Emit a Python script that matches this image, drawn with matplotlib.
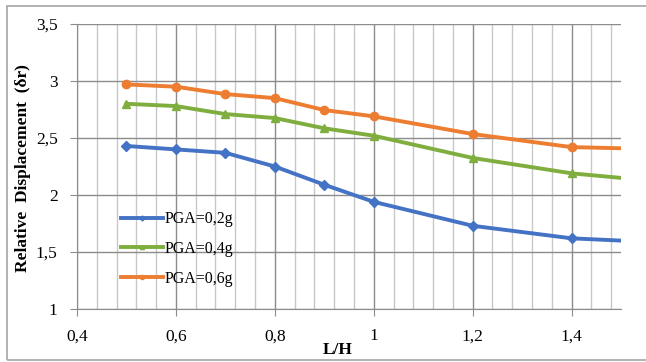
import numpy as np
import matplotlib.pyplot as plt
from matplotlib.ticker import MultipleLocator, FuncFormatter
from matplotlib.patches import Rectangle

# L/H ratios and relative displacement for each PGA level
lh = [0.5, 0.6, 0.7, 0.8, 0.9, 1.0, 1.2, 1.4, 1.5]
pga_02 = [2.43, 2.40, 2.37, 2.25, 2.09, 1.94, 1.73, 1.62, 1.60]
pga_04 = [2.80, 2.78, 2.71, 2.675, 2.585, 2.52, 2.325, 2.19, 2.15]
pga_06 = [2.97, 2.95, 2.885, 2.85, 2.745, 2.69, 2.535, 2.42, 2.41]
labels = ['PGA=0,2g', 'PGA=0,4g', 'PGA=0,6g']

plt.rcParams['font.family'] = ['Liberation Serif', 'DejaVu Serif']

fig = plt.figure(figsize=(6.46, 3.62), dpi=100)
ax = fig.add_axes([77/646, 1-309/362, (621-77)/646, (309-24)/362])

# outer frame of the chart
fig.patches.append(Rectangle((7/646, 2/362), 1.0, 354/362, transform=fig.transFigure,
                             fill=False, edgecolor='#a6a6a6', lw=1.2))

mk = list(range(len(lh) - 1))
ax.plot(lh, pga_02, color='#4472c4', lw=2.8, marker='D', ms=5, markevery=mk, label=labels[0])
ax.plot(lh, pga_04, color='#7fae3f', lw=2.8, marker='^', ms=6, markevery=mk, label=labels[1])
ax.plot(lh, pga_06, color='#ed7d31', lw=2.8, marker='o', ms=6, markevery=mk, label=labels[2])

ax.set_xlim(0.4, 1.5)
ax.set_ylim(1, 3.5)
ax.xaxis.set_major_locator(MultipleLocator(0.2))
ax.xaxis.set_minor_locator(MultipleLocator(0.04))
ax.yaxis.set_major_locator(MultipleLocator(0.5))
comma = FuncFormatter(lambda v, p: ('%g' % round(v, 2)).replace('.', ','))
ax.xaxis.set_major_formatter(comma)
ax.yaxis.set_major_formatter(comma)

ax.grid(which='major', color='#8c8c8c', lw=1.0)
ax.grid(which='minor', axis='x', color='#c8c8c8', lw=1.0)
ax.set_axisbelow(True)
for s in ['top', 'right']:
    ax.spines[s].set_visible(False)
for s in ['left', 'bottom']:
    ax.spines[s].set_color('#8c8c8c')
ax.tick_params(which='major', length=5, color='#8c8c8c', labelsize=12.5)
ax.tick_params(which='minor', length=0)
ax.tick_params(axis='x', pad=9)
ax.tick_params(axis='y', pad=9)

ax.set_xlabel('L/H', fontweight='bold', fontsize=12.5)
ax.xaxis.set_label_coords(0.48, -0.115)
ax.set_ylabel('Relative  Displacement  (δr)', fontweight='bold', fontsize=12.5)
ax.yaxis.set_label_coords(-0.085, 0.495)

ax.legend(loc='upper left', bbox_to_anchor=(0.07, 0.365), frameon=False, fontsize=11.5,
          handlelength=2.6, handletextpad=0.1, labelspacing=0.85, borderaxespad=0,
          markerscale=0.5)

fig.savefig('out.png', dpi=100)
